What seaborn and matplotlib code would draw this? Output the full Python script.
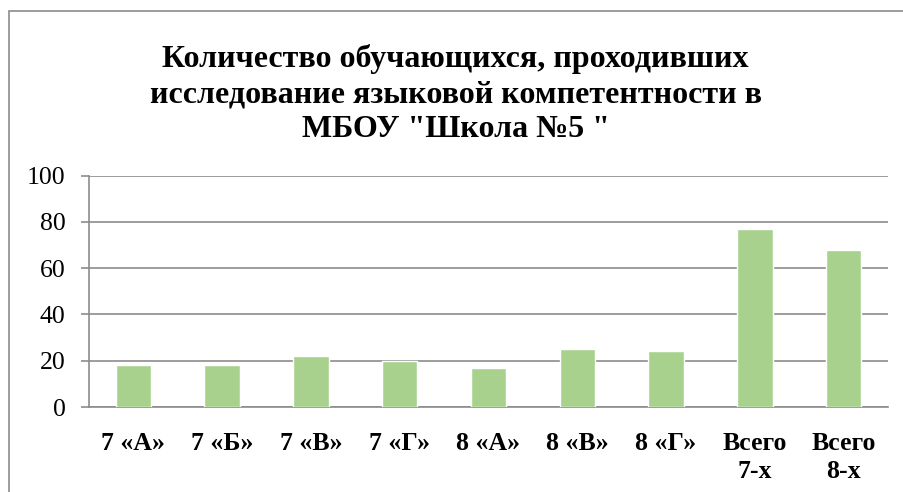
import matplotlib
matplotlib.use("Agg")
import matplotlib.pyplot as plt
import seaborn as sns
import pandas as pd
import numpy as np
from matplotlib.patches import Rectangle

# Data
categories = ["7 «А»", "7 «Б»", "7 «В»", "7 «Г»", "8 «А»", "8 «В»", "8 «Г»", "Всего\n7-х", "Всего\n8-х"]
counts = [18, 18, 22, 20, 17, 25, 24, 77, 68]
y_ticks = [0, 20, 40, 60, 80, 100]
title = 'Количество обучающихся, проходивших\nисследование языковой компетентности в\nМБОУ "Школа №5 "'

sns.set_style("white")
plt.rcParams['font.family'] = ['Liberation Serif', 'DejaVu Serif']
plt.rcParams['text.color'] = 'black'
plt.rcParams['xtick.labelcolor'] = 'black'
plt.rcParams['ytick.labelcolor'] = 'black'

bar_color = "#A9D18E"
grid_color = "#8C8C8C"

df = pd.DataFrame({"Класс": categories, "Количество": counts})

fig = plt.figure(figsize=(9.04, 4.92), dpi=100)
ax = fig.add_axes([89 / 904, 1 - 407 / 492, (888 - 89) / 904, (407 - 175.5) / 492])

sns.barplot(data=df, x="Класс", y="Количество", color=bar_color, saturation=1,
            width=0.40, ax=ax, zorder=3)

ax.set_xlim(-0.5, len(categories) - 0.5)
ax.set_ylim(0, 100)
ax.set_yticks(y_ticks)
ax.set_xlabel("")
ax.set_ylabel("")

# gridlines
ax.yaxis.grid(True, color=grid_color, linewidth=1.2, zorder=0)
ax.set_axisbelow(True)

for side in ["top", "right"]:
    ax.spines[side].set_visible(False)
for side in ["left", "bottom"]:
    ax.spines[side].set_color(grid_color)
    ax.spines[side].set_linewidth(1.2)

# ticks: category labels without marks, marks at boundaries
ax.set_xticks(np.arange(len(categories)))
ax.set_xticklabels(categories, fontsize=18.5, fontweight="bold", linespacing=1.3)
ax.set_xticks(np.arange(len(categories) + 1) - 0.5, minor=True)
ax.tick_params(axis="x", which="major", length=0, pad=18, labelcolor="black")
ax.tick_params(axis="x", which="minor", length=6, width=1.2, color=grid_color, direction="out")
ax.tick_params(axis="y", which="major", length=6, width=1.2, color=grid_color,
               direction="out", labelsize=18.5, pad=11, left=True, labelcolor="black")

fig.text(0.504, 1 - 44 / 492, title, ha="center", va="top", fontsize=23,
         fontweight="bold", linespacing=1.28, color="black")

# outer chart border
fig.add_artist(Rectangle((9 / 904, -0.1), 1.2, 1 - 11 / 492 + 0.1, transform=fig.transFigure,
                         fill=False, edgecolor="#8C8C8C", linewidth=1.2))

fig.savefig("out.png", dpi=100)
